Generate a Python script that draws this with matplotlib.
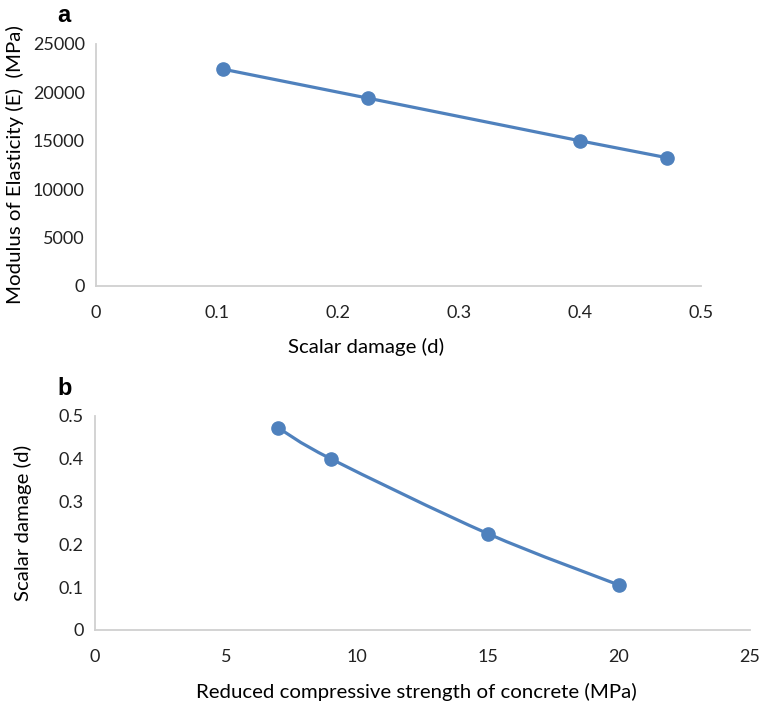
import matplotlib
matplotlib.use("Agg")
import matplotlib.pyplot as plt
from matplotlib.path import Path
from matplotlib.patches import PathPatch

# panel a: modulus of elasticity vs scalar damage
damage_a = [0.105, 0.225, 0.40, 0.472]
modulus = [22400, 19400, 15000, 13250]

# panel b: scalar damage vs reduced compressive strength
strength = [7, 9, 15, 20]
damage_b = [0.472, 0.40, 0.225, 0.105]

BLUE = "#4f81bd"
GRID = "#d0d0d0"
plt.rcParams["font.family"] = ["Lato", "DejaVu Sans"]


def smooth_path(xs, ys):
    # Excel style smoothed line: cubic bezier through every point
    pts = list(zip(xs, ys))
    verts = [pts[0]]
    codes = [Path.MOVETO]
    n = len(pts)
    for i in range(n - 1):
        p0 = pts[max(i - 1, 0)]
        p1 = pts[i]
        p2 = pts[i + 1]
        p3 = pts[min(i + 2, n - 1)]
        c1 = (p1[0] + (p2[0] - p0[0]) / 6, p1[1] + (p2[1] - p0[1]) / 6)
        c2 = (p2[0] - (p3[0] - p1[0]) / 6, p2[1] - (p3[1] - p1[1]) / 6)
        verts += [c1, c2, p2]
        codes += [Path.CURVE4] * 3
    return Path(verts, codes)


def style(ax):
    for side in ("top", "right"):
        ax.spines[side].set_visible(False)
    for side in ("left", "bottom"):
        ax.spines[side].set_color(GRID)
        ax.spines[side].set_linewidth(1.3)
    ax.tick_params(length=0, labelsize=13, colors="#222222")
    ax.tick_params(axis="x", pad=14)
    ax.tick_params(axis="y", pad=8)
    ax.xaxis.label.set_va("center")
    ax.yaxis.label.set_va("center")


fig = plt.figure(figsize=(7.62, 7.06), dpi=100)

ax1 = fig.add_axes([96 / 762, 1 - 286 / 706, 605 / 762, 242 / 706])
ax1.plot(damage_a, modulus, color=BLUE, lw=2.3, marker="o", ms=9.5)
ax1.set_xlim(0, 0.5)
ax1.set_ylim(0, 25000)
ax1.set_xticks([0, 0.1, 0.2, 0.3, 0.4, 0.5])
ax1.set_xticklabels(["0", "0.1", "0.2", "0.3", "0.4", "0.5"])
ax1.set_yticks(range(0, 25001, 5000))
ax1.set_xlabel("Scalar damage (d)", fontsize=14.7)
ax1.set_ylabel("Modulus of Elasticity (E)  (MPa)", fontsize=14.7)
style(ax1)
ax1.xaxis.set_label_coords(0.446, -0.252)
ax1.yaxis.set_label_coords(-0.134, 0.5)
fig.text(57 / 762, 1 - 15 / 706, "a", fontsize=17, fontweight="bold",
         family="Liberation Sans", ha="left", va="center")

ax2 = fig.add_axes([95 / 762, 1 - 630 / 706, 655 / 762, 214 / 706])
ax2.add_patch(PathPatch(smooth_path(strength, damage_b), fill=False,
                        edgecolor=BLUE, lw=2.3))
ax2.plot(strength, damage_b, ls="none", color=BLUE, marker="o", ms=9.5)
ax2.set_xlim(0, 25)
ax2.set_ylim(0, 0.5)
ax2.set_xticks([0, 5, 10, 15, 20, 25])
ax2.set_yticks([0, 0.1, 0.2, 0.3, 0.4, 0.5])
ax2.set_yticklabels(["0", "0.1", "0.2", "0.3", "0.4", "0.5"])
ax2.set_xlabel("Reduced compressive strength of concrete (MPa)", fontsize=14.7)
ax2.set_ylabel("Scalar damage (d)", fontsize=14.7)
style(ax2)
ax2.xaxis.set_label_coords(0.490, -0.290)
ax2.yaxis.set_label_coords(-0.110, 0.5)
fig.text(57 / 762, 1 - 388 / 706, "b", fontsize=17, fontweight="bold",
         family="Liberation Sans", ha="left", va="center")

fig.savefig("out.png", dpi=100)
